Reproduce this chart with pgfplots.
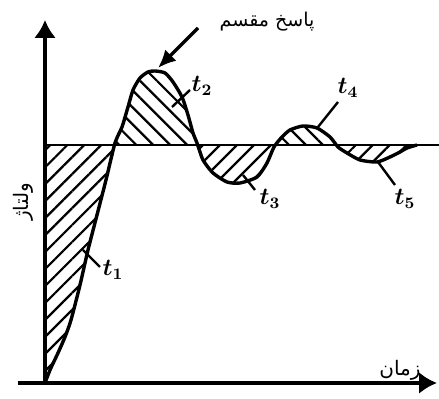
\documentclass[border=0pt]{standalone}
\usepackage{pgfplots}
\pgfplotsset{compat=1.18}
\usepgfplotslibrary{fillbetween}
\usetikzlibrary{arrows.meta,patterns.meta}
\usepackage{fontspec}
\newfontfamily\fafont[Script=Arabic]{DejaVu Sans}
\TeXXeTstate=1

\tikzset{
  hatchA/.style={pattern={Lines[angle=45,distance=6pt,line width=1.1pt]}},
  hatchB/.style={pattern={Lines[angle=-45,distance=6pt,line width=1.1pt]}},
}

\begin{document}
\begin{tikzpicture}
\begin{axis}[
  x=0.5pt, y=0.5pt,
  xmin=-27, xmax=392, ymin=0, ymax=363,
  axis lines=middle, ticks=none, clip=false,
  axis line style={line width=1.7pt, -{Latex[length=9pt,width=11pt]}},
]
% step response (px-based data)
\addplot[name path=resp, line width=1.7pt, smooth, tension=0.4] coordinates {
 (0,0) (5,13) (13,30) (20,46) (26,63) (35,98) (43,133) (52,168) (61,203)
 (70,240) (77,256) (83,276) (88,293) (95,305) (103,311) (110,312) (120,310)
 (128,301) (137,286) (143,268) (148,250) (152,240) (158,223) (168,210)
 (182,201) (195,200) (212,206) (222,220) (229,236) (237,246) (245,253)
 (258,257) (272,255) (285,246) (293,236) (302,230) (315,223) (332,221)
 (345,226) (355,231) (362,235) (372,238)
};
\addplot[name path=ref, line width=1pt] coordinates {(0,238) (394,238)};

\addplot[draw=none] fill between[of=resp and ref, split,
  every segment no 0/.style={hatchA},
  every segment no 1/.style={hatchB},
  every segment no 2/.style={hatchA},
  every segment no 3/.style={hatchB},
  every segment no 4/.style={hatchA},
];

% pointer and labels
\draw[line width=1.7pt, -{Latex[length=9pt,width=8pt]}] (axis cs:153,355) -- (axis cs:113,315);
\node[font=\fafont\fontsize{9.5}{12}\selectfont] at (axis cs:222,361) {\beginR پاسخ مقسم\endR};
\node[font=\fafont\fontsize{10}{12}\selectfont, rotate=90] at (axis cs:-22,181) {\beginR ولتاژ\endR};
\node[font=\fafont\fontsize{10}{12}\selectfont] at (axis cs:355,13) {\beginR زمان\endR};

\begin{scope}[every node/.style={font=\large\boldmath}]
\draw[line width=1.2pt] (axis cs:38,133) -- (axis cs:55,116);
\node at (axis cs:68,113) {$t_1$};
\draw[line width=1.2pt] (axis cs:127,276) -- (axis cs:145,293);
\node at (axis cs:157,297) {$t_2$};
\draw[line width=1.2pt] (axis cs:198,208) -- (axis cs:210,193);
\node at (axis cs:225,184) {$t_3$};
\draw[line width=1.2pt] (axis cs:273,256) -- (axis cs:293,281);
\node at (axis cs:303,295) {$t_4$};
\draw[line width=1.2pt] (axis cs:333,221) -- (axis cs:350,198);
\node at (axis cs:360,184) {$t_5$};
\end{scope}

\coordinate (BL) at (axis cs:-45,-16);
\coordinate (TR) at (axis cs:394,383);
\end{axis}
\pgfresetboundingbox
\path[use as bounding box] (BL) rectangle (TR);
\end{tikzpicture}
\end{document}
